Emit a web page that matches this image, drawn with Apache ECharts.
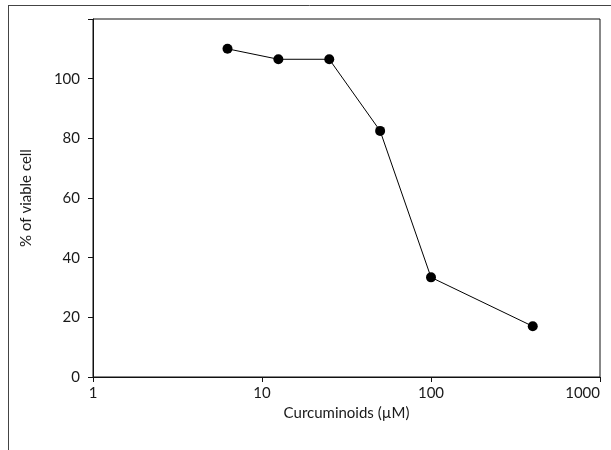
<!DOCTYPE html>
<html>
<head>
<meta charset="utf-8">
<script src="https://cdn.jsdelivr.net/npm/echarts@6/dist/echarts.min.js"></script>
<style>html,body{margin:0;padding:0;background:#fff;}#c{width:611px;height:450px;}</style>
</head>
<body>
<div id="c"></div>
<script>
const concentrations = [6.25, 12.5, 25, 50, 100, 400];
const viability = [110, 106.5, 106.5, 82.5, 33.4, 17];
const xTickLabels = ['1', '10', '100', '1000'];
const yTicks = [0, 20, 40, 60, 80, 100];

const chart = echarts.init(document.getElementById('c'), null, {renderer: 'canvas'});
const font = 'Lato, "Open Sans", sans-serif';
const txt = '#1a1a1a';
chart.setOption({
  animation: false,
  backgroundColor: '#fff',
  grid: {left: 93, right: 11, top: 19, bottom: 73, show: true, borderColor: '#111', borderWidth: 1,
         containLabel: false, outerBoundsMode: 'none'},
  graphic: [
    {type: 'line', shape: {x1: 8.5, y1: 6, x2: 8.5, y2: 450}, style: {stroke: '#444', lineWidth: 1}},
    {type: 'line', shape: {x1: 8, y1: 5.5, x2: 611, y2: 5.5}, style: {stroke: '#444', lineWidth: 1}}
  ],
  xAxis: {
    type: 'log', logBase: 10, min: 1, max: 1000,
    name: 'Curcuminoids (\u00b5M)', nameLocation: 'middle', nameGap: 26,
    nameTextStyle: {fontFamily: font, fontSize: 15, color: txt},
    axisLine: {show: true, lineStyle: {color: '#111', width: 1}},
    axisTick: {show: true, inside: false, length: 5, lineStyle: {color: '#111'}},
    minorTick: {show: false},
    splitLine: {show: false},
    axisLabel: {fontFamily: font, fontSize: 15, color: txt, margin: 9, hideOverlap: false,
      alignMaxLabel: 'right',
      formatter: v => xTickLabels.find(t => Number(t) === Math.round(v)) || ''}
  },
  yAxis: {
    type: 'value', min: 0, max: 120, interval: 20,
    name: '% of viable cell', nameLocation: 'middle', nameGap: 59,
    nameTextStyle: {fontFamily: font, fontSize: 15, color: txt},
    axisLine: {show: true, lineStyle: {color: '#111', width: 1}},
    axisTick: {show: true, inside: false, length: 5, lineStyle: {color: '#111'}},
    splitLine: {show: false},
    axisLabel: {fontFamily: font, fontSize: 15, color: txt, margin: 13,
      formatter: v => yTicks.includes(v) ? String(v) : ''}
  },
  series: [{
    type: 'line',
    data: concentrations.map((c, i) => [c, viability[i]]),
    symbol: 'circle', symbolSize: 10,
    itemStyle: {color: '#000'},
    lineStyle: {color: '#000', width: 1}
  }]
});
</script>
</body>
</html>
